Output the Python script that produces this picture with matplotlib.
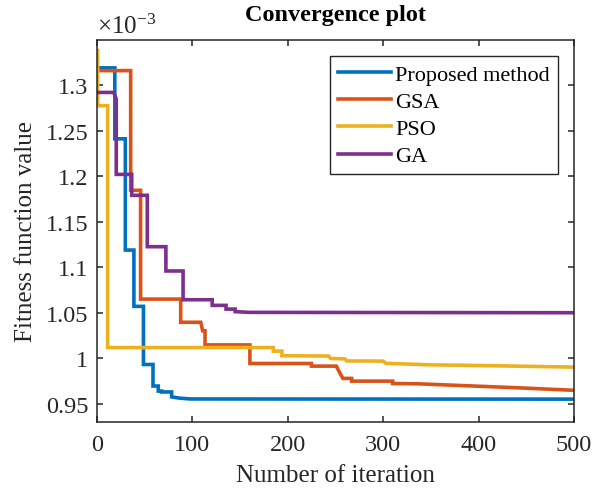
import matplotlib
matplotlib.use('Agg')
import matplotlib.pyplot as plt

# Values are in units of 1e-3 (the axis carries a x10^-3 multiplier)
series_names = ['Proposed method', 'GSA', 'PSO', 'GA']

proposed_iter = [0, 19, 19, 30, 30, 39, 39, 49, 49, 59, 59, 64.5, 64.5, 68, 68, 78.5, 78.5, 86, 98, 500]
proposed_val = [1.319, 1.319, 1.241, 1.241, 1.1187, 1.1187, 1.0568, 1.0568, 0.9929, 0.9929, 0.9692, 0.9692,
                0.9637, 0.9637, 0.9627, 0.9627, 0.9573, 0.9560, 0.9550, 0.9548]

gsa_iter = [0, 35.6, 35.6, 46, 46, 88, 88, 109, 111, 113.5, 113.5, 160.5, 160.5, 225, 225, 251, 256.5, 258,
            267, 267, 310, 310, 338, 443, 500]
gsa_val = [1.316, 1.316, 1.1844, 1.1844, 1.0648, 1.0648, 1.0393, 1.0393, 1.030, 1.030, 1.0144, 1.0144, 0.9940,
           0.9940, 0.9911, 0.9911, 0.980, 0.9776, 0.9776, 0.9746, 0.9746, 0.9720, 0.9716, 0.9672, 0.9645]

pso_iter = [0, 1, 1, 11.5, 11.5, 185, 185, 194, 194, 243, 245, 260, 262, 300, 303, 349, 400, 500]
pso_val = [1.338, 1.338, 1.2774, 1.2774, 1.0115, 1.0115, 1.0076, 1.0076, 1.0025, 1.0022, 0.9995, 0.9991,
           0.9968, 0.9966, 0.9942, 0.9925, 0.9918, 0.9900]

ga_iter = [0, 18, 20.5, 20.5, 36.7, 36.7, 53, 53, 72.5, 72.5, 90.5, 90.5, 121, 121, 135.5, 135.5, 145, 145,
           160, 500]
ga_val = [1.292, 1.292, 1.2847, 1.2019, 1.2019, 1.1789, 1.1789, 1.1224, 1.1224, 1.0957, 1.0957, 1.0641,
          1.0641, 1.0579, 1.0579, 1.0538, 1.0538, 1.0510, 1.0502, 1.0498]

x_ticks = [0, 100, 200, 300, 400, 500]
y_ticks = [0.95, 1.0, 1.05, 1.1, 1.15, 1.2, 1.25, 1.3]
y_tick_labels = ['0.95', '1', '1.05', '1.1', '1.15', '1.2', '1.25', '1.3']

colors = ['#0072BD', '#D95319', '#EDB120', '#7E2F8E']
axis_color = '#262626'

plt.rcParams['font.family'] = ['Liberation Serif', 'DejaVu Serif']
plt.rcParams['mathtext.fontset'] = 'custom'
plt.rcParams['mathtext.rm'] = 'Liberation Serif'

fig = plt.figure(figsize=(6.02, 4.89), dpi=100)
ax = fig.add_axes([0.1606, 0.1356, 0.7929, 0.7812])

data = [(proposed_iter, proposed_val), (gsa_iter, gsa_val), (pso_iter, pso_val), (ga_iter, ga_val)]
for (xs, ys), name, c in zip(data, series_names, colors):
    ax.plot(xs, ys, color=c, linewidth=2.6, label=name, solid_joinstyle='miter')

ax.set_xlim(0, 500)
ax.set_ylim(0.93, 1.35)
ax.set_xticks(x_ticks)
ax.set_yticks(y_ticks)
ax.set_yticklabels(y_tick_labels)

ax.tick_params(direction='in', length=4, width=1.1, colors=axis_color, labelsize=17.5,
               top=True, right=True, labelcolor=axis_color)
ax.tick_params(axis='x', pad=9)
ax.tick_params(axis='y', pad=6)
for spine in ax.spines.values():
    spine.set_linewidth(1.1)
    spine.set_color(axis_color)

ax.set_xlabel('Number of iteration', fontsize=18, color=axis_color, labelpad=6)
ax.set_ylabel('Fitness function value', fontsize=18, color=axis_color, labelpad=6)
ax.set_title('Convergence plot', fontsize=17.5, fontweight='bold', color='black', pad=14)
ax.text(0, 1.005, r'$\times\mathregular{10^{-3}}$', transform=ax.transAxes, ha='left', va='bottom',
        fontsize=18, color=axis_color)

leg = ax.legend(loc='upper right', bbox_to_anchor=(0.966, 0.9565), borderaxespad=0, fancybox=False,
                fontsize=16, handlelength=2.4, handletextpad=0.2, labelspacing=0.3, borderpad=0.35)
leg.get_frame().set_edgecolor(axis_color)
leg.get_frame().set_linewidth(1.0)
leg.get_frame().set_alpha(1)
for t in leg.get_texts():
    t.set_color('black')

fig.savefig('out.png', dpi=100)
